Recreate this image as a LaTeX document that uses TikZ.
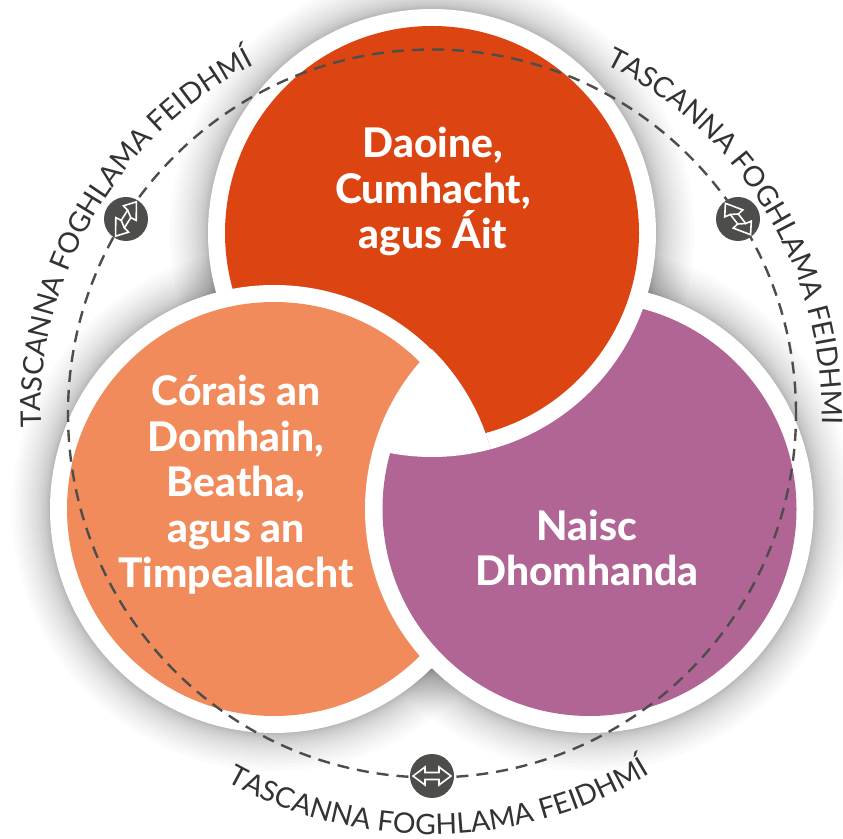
\documentclass[tikz,border=0pt]{standalone}
\usepackage{fontspec}
\usetikzlibrary{decorations.text}
\setmainfont{Lato}
\newfontfamily\ringfont{Lato}
\newfontfamily\titlefont{Lato Heavy}
\definecolor{redc}{HTML}{DC4512}
\definecolor{orangec}{HTML}{F18B5B}
\definecolor{purplec}{HTML}{B16595}
\definecolor{darkc}{HTML}{4D4D4B}
\definecolor{ringtext}{HTML}{333333}
\tikzset{
  title/.style={text=white,align=center,inner sep=0pt,font=\fontsize{40.8}{45.5}\selectfont\titlefont},
  ringlabel/.style={decorate,decoration={text along path,text align=center,
     text={|\fontsize{28.3}{28.3}\selectfont\ringfont\color{ringtext}|TASCANNA FOGHLAMA FEIDHMÍ}}},
  iconbg/.style={circle,fill=darkc,draw=none,minimum size=44pt,inner sep=0pt},
  iconline/.style={draw=white,line width=1.6pt,line join=miter},
}
\newcommand{\arrowicon}[3]{%
  \begin{scope}[shift={(#1)},rotate=#2,xscale=#3]
    \draw[iconline] (-19,0) -- (-7,-9) -- (-7,-3.5) -- (7,-3.5) -- (7,-9) -- (19,0) -- (7,9) -- (7,3.5) -- (-7,3.5) -- (-7,9) -- cycle;
  \end{scope}}
\newcommand{\diagicon}[2]{%
  \begin{scope}[shift={(#1)},rotate=#2]
    \draw[iconline] (-20,-2) -- (-9,-10) -- (-8,-4) -- (4,-3) -- (5,-9) -- (20,2) -- (9,10) -- (8,4) -- (-4,3) -- (-5,9) -- cycle;
    \draw[iconline] (-8,-4) -- (-4,3) (4,-3) -- (8,4);
  \end{scope}}
\begin{document}
\begin{tikzpicture}[x=1pt,y=1pt]
\useasboundingbox (0,0) rectangle (843,838);
\fill[white] (0,0) rectangle (843,838);
\coordinate (cr) at (432,605);
\coordinate (cp) at (589.5,329);
\coordinate (co) at (274,329);
\coordinate (ctr) at (432,424.5);
\begin{scope}
\clip (0,0) rectangle (843,838);
% soft shadows
\foreach \c in {cr,cp,co}{
  \foreach \i in {1,...,20}{
    \fill[black,opacity=0.017] (\c) circle ({224+38*(\i/20)*(\i/20)});
  }
}
% purple
\fill[white] (cp) circle (224);
\fill[purplec] (cp) circle (207);
% red
\fill[white] (cr) circle (224);
\fill[redc] (cr) circle (207);
% orange
\fill[white] (co) circle (224);
\fill[orangec] (co) circle (207);
% purple over orange, red over purple
\begin{scope}
  \clip (co) circle (224.6);
  \draw[white,line width=18pt] (cp) circle (215.5);
  \fill[purplec] (cp) circle (207);
  \begin{scope}
    \clip (cp) circle (209);
    \fill[white] (cr) circle (224);
  \end{scope}
\end{scope}
% dashed ring
\draw[darkc,line width=2.4pt,dash pattern=on 12pt off 8pt] (ctr) circle (364);
% ring labels
\path[ringlabel] ([shift={(189.6:391)}]ctr) arc (189.6:109.6:391);
\path[ringlabel] ([shift={(71:390)}]ctr) arc (71:-9:390);
\path[ringlabel] ([shift={(231:421)}]ctr) arc (231:311:421);
\end{scope}
% titles
\node[title] (tr) at (433,646.5) {Daoine,\\Cumhacht,\\agus Áit};
\node[title] (to) at (236,353) {Córais an\\Domhain,\\Beatha,\\agus an\\Timpeallacht};
\node[title] (tp) at (587,290) {Naisc\\Dhomhanda};
% icons
\node[iconbg] (i1) at (126,619) {};
\node[iconbg] (i2) at (738,619) {};
\node[iconbg] (i3) at (432,62) {};
\diagicon{i1.center}{53}
\diagicon{i2.center}{-57}
\arrowicon{i3.center}{0}{1}
\end{tikzpicture}
\end{document}
